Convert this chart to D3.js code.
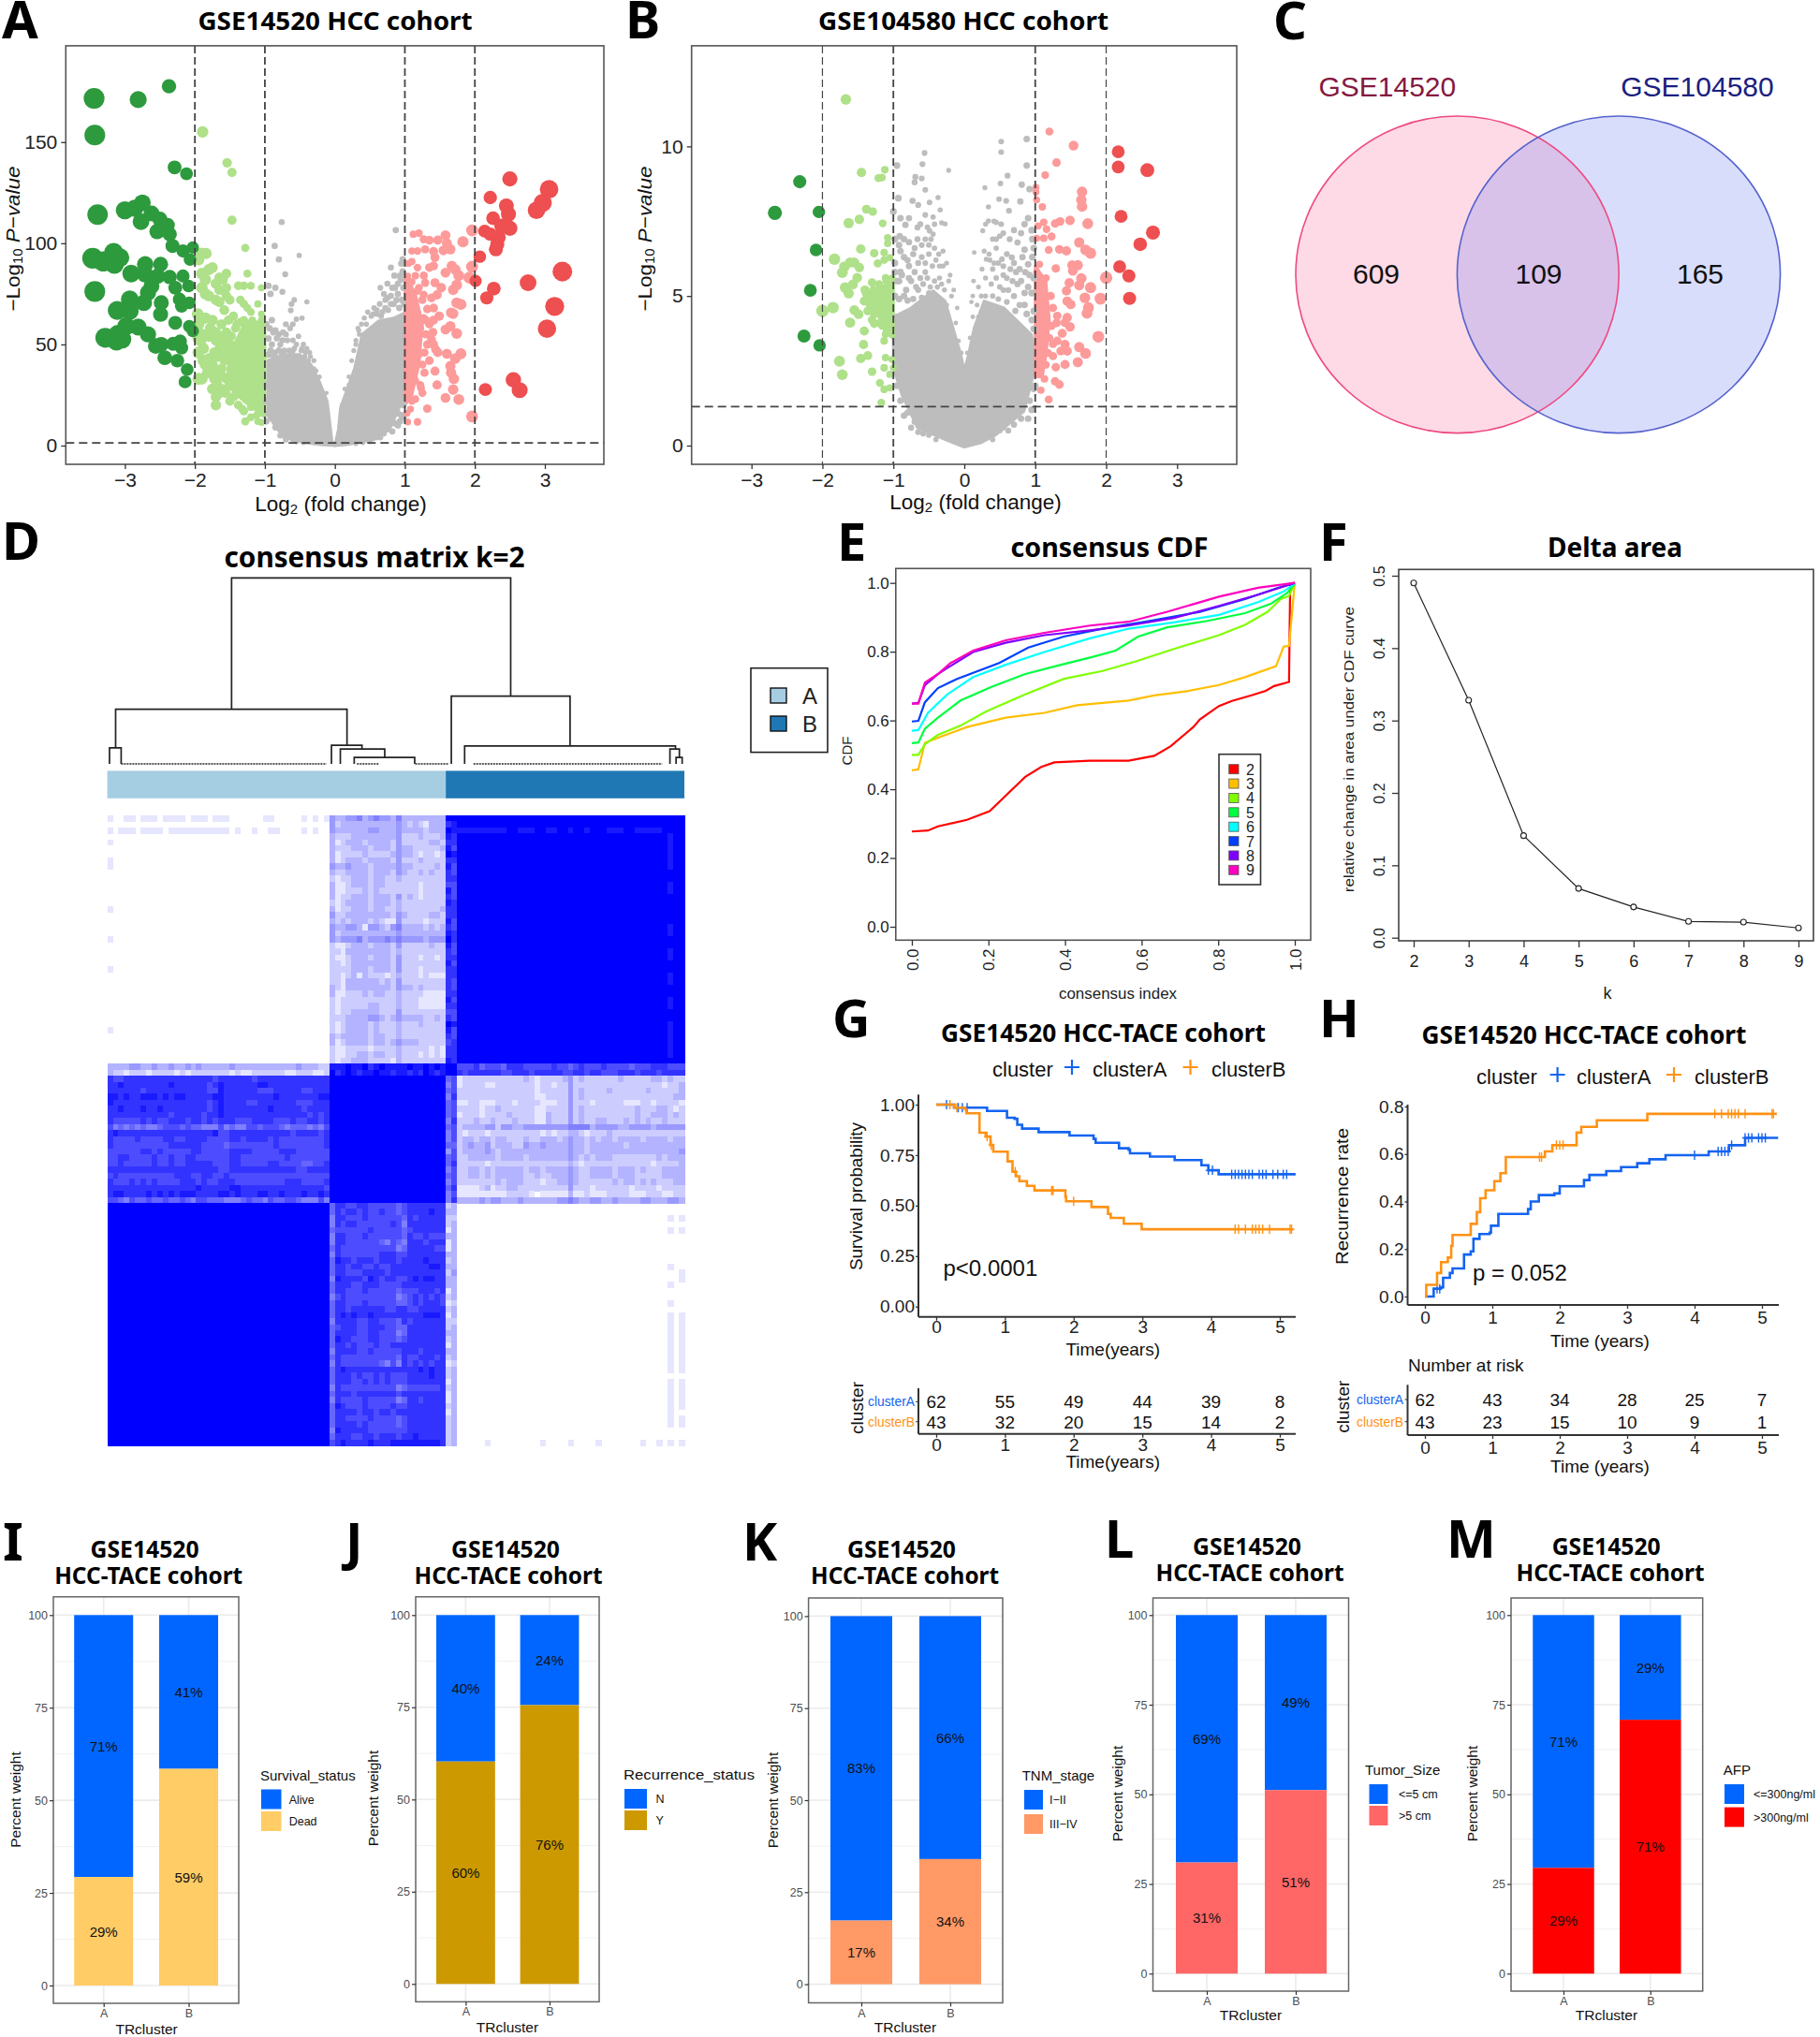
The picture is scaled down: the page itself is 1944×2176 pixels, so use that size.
<!DOCTYPE html>
<html><head><meta charset="utf-8">
<script src="https://cdn.jsdelivr.net/npm/d3@7"></script>
<style>html,body{margin:0;padding:0;background:#fff}svg{display:block}text{font-family:"Liberation Sans",Arial,sans-serif}</style>
</head><body><svg id="c" width="1944" height="2176"></svg>
<script>
// ---------- Volcano A (log2FC, -log10P) ----------
const aDark=[[-3.44,171.6],[-2.81,171],[-2.37,177.6],[-3.43,153.5],[-2.29,137.5],[-2.12,134.3],[-3.39,114.2],[-3,116.3],[-2.86,117.3],[-2.75,120],[-2.62,114.7],[-2.77,110.7],[-2.5,111.9],[-2.39,109],[-2.54,105.8],[-2.36,104.5],[-2.32,98.7],[-2.17,96.2],[-2.03,97.9],[-2.07,92],[-3.46,92.6],[-3.16,95.4],[-3.07,92.9],[-3.31,91],[-3.15,89.6],[-2.91,85],[-2.71,89.6],[-2.71,84.7],[-2.49,89.6],[-2.53,83.8],[-2.36,83.3],[-2.17,83.8],[-2.09,78.9],[-2.28,78],[-2.62,78.9],[-2.67,75.6],[-2.73,70.6],[-3.43,76.2],[-2.93,72.3],[-3.11,66.8],[-2.93,66.5],[-2.48,70.6],[-2.49,64.9],[-2.22,72.3],[-2.08,70.6],[-2.19,69],[-2.28,60.7],[-2.08,59],[-2.03,56.6],[-2.21,51.6],[-2.19,48.3],[-2.31,50.3],[-2.25,42],[-2.43,43.4],[-2.56,49.2],[-2.48,50],[-2.67,55],[-2.81,58.6],[-2.98,59],[-3.28,53.3],[-3.12,51.6],[-3.04,52.5],[-3.1,55],[-2.11,37.6],[-2.14,31.5]];
const aRed=[[3.06,126.7],[2.5,131.8],[2.22,122.6],[2.97,120],[2.88,116.3],[2.45,118.5],[2.48,114.4],[2.26,112.4],[2.38,108.6],[2.5,107.4],[2.14,106],[2.22,104.5],[2.34,103],[2.32,99.5],[2.3,97],[2.07,93.4],[3.25,86],[2.76,80.5],[2.01,81.4],[2.27,77.6],[2.17,73],[3.14,68.8],[3.03,57.8],[2.55,32.5],[2.15,27.7],[2.64,27.4]];
const aLight=[[-1.89,155],[-1.54,139.8],[-1.47,135],[-1.47,111.4],[-1.28,97.7],[-1.84,95],[-1.9,95],[-1.95,92],[-1.8,87],[-1.75,88],[-1.9,85],[-1.85,82],[-1.65,83],[-1.55,85],[-1.6,82],[-1.55,78],[-1.9,78],[-1.85,75],[-1.8,74],[-1.7,80],[-1.65,77],[-1.5,72],[-1.55,74],[-1.7,72],[-1.65,71],[-1.25,85],[-1.3,79],[-1.2,79],[-1.38,79],[-1.05,78],[-1.35,72],[-1.3,70],[-1.25,68],[-1.2,66],[-1.1,70],[-1.05,65],[-1.03,60],[-1.96,65],[-1.95,60],[-1.85,63],[-1.75,62],[-1.62,60],[-1.52,62],[-1.45,64],[-1.58,67],[-1.42,58],[-1.35,61],[-1.25,60],[-1.9,55],[-1.8,54],[-1.95,53],[-1.7,52],[-1.62,54],[-1.55,53],[-1.5,50],[-1.65,48],[-1.72,46],[-1.88,48],[-1.95,46],[-1.8,43],[-1.6,44],[-1.52,46],[-1.45,42],[-1.62,38],[-1.75,40],[-1.85,40],[-1.95,33],[-1.9,33],[-1.72,33],[-1.68,30],[-1.55,33],[-1.6,28],[-1.5,30],[-1.7,24],[-1.7,20],[-1.5,22],[-1.42,25],[-1.38,20],[-1.32,18],[-1.28,12],[-1.1,12],[-1.05,11.5],[-1.05,16],[-1.2,19],[-1.08,24],[-1.12,28],[-1.03,33],[-1.3,40],[-1.15,50],[-1.1,55],[-1.02,44],[-1.22,34],[-1.35,33],[-1.28,27],[-1.4,50],[-1.48,38],[-1.55,56],[-1.05,62],[-1.12,60],[-1.18,62],[-1.3,62],[-1.4,60],[-1.48,54],[-1.52,48],[-1.58,42],[-1.6,34],[-1.56,26],[-1.45,24],[-1.38,26],[-1.3,17],[-1.2,14],[-1.12,15],[-1.62,50],[-1.7,56],[-1.78,58],[-1.68,44],[-1.82,36],[-1.88,42],[-1.92,52],[-1.75,28],[-1.65,26],[-1.72,36]];
const aPink=[[1.2,105],[1.12,104.5],[1.27,102],[1.35,101.5],[1.47,101.6],[1.58,104],[1.6,100],[1.83,100.8],[1.96,106.4],[1.1,96.2],[1.18,96.2],[1.29,97],[1.41,96],[1.55,96.5],[1.65,97],[1.43,93],[1.1,91],[1.35,88],[1.41,88.8],[1.67,88.8],[1.72,87],[1.58,85.5],[1.77,84],[1.96,88.4],[1.92,83],[1.04,83.8],[1.27,84],[1.1,81],[1.29,80.5],[1.43,80.5],[1.52,78],[1.74,79.4],[1.69,77],[1.04,78],[1.18,76.4],[1.27,74.5],[1.1,73],[1.38,73],[1.46,74.5],[1.74,70.6],[1.8,69.8],[1.66,65.7],[1.69,65.2],[1.41,68],[1.32,67.5],[1.18,65.7],[1.07,64],[1.27,63],[1.41,62],[1.49,64],[1.58,57.4],[1.65,59],[1.74,55.4],[1.38,52.5],[1.41,50],[1.44,47.5],[1.47,46],[1.6,45.4],[1.8,45.4],[1.72,43],[1.65,39.3],[1.43,36.8],[1.66,36],[1.7,33],[1.46,30],[1.23,28.5],[1.69,27.7],[1.58,23.6],[1.77,22.8],[1.32,18.3],[1.18,11.7],[1.04,11.7],[1.96,14.4],[1.2,45],[1.08,40],[1.28,36],[1.15,32],[1.25,26],[1.1,22],[1.03,16],[1.35,42],[1.3,55],[1.22,58],[1.05,90],[1.15,84],[1.2,78],[1.25,72],[1.3,62],[1.32,50],[1.28,46],[1.25,40],[1.22,30],[1.15,23],[1.08,18],[1.02,25],[1.35,60],[1.4,56],[1.18,88],[1.05,70]];
const aGrey=[[-.76,110.5],[-.86,98.7],[-.8,92],[-.51,94],[-.71,84.7],[-.95,79],[-.85,78],[-.92,75],[-.75,76],[-.58,72],[-.62,70],[-.4,71],[-.63,66.8],[-.9,62],[-.7,60],[-.6,60],[-.55,62.5],[-.47,63],[-.85,57],[-.8,55],[-.75,52],[-.7,55],[-.6,52],[-.55,50],[-.45,50],[-.4,48],[-.36,46],[-.95,53],[-.9,50],[-.8,47],[-.65,47],[-.3,38],[-.28,32],[-.2,27],[-.15,22],[-.1,15],[-.98,30],[-.98,22],[-.9,14],[-.8,9],[-.75,6],[-.6,3],[.87,106.5],[.97,92],[.95,90],[.8,88],[.85,84],[.65,78],[.7,75],[.75,73],[.8,70],[.9,75],[.6,67],[.55,65],[.45,60],[.33,58],[.35,55],[.3,50],[.2,30],[.93,84],[.98,78],[.72,68],[.66,64],[.12,18],[.16,24],[.93,12],[.82,7],[.6,4],[.98,14],[-.98,60],[-.93,58],[-.88,56],[-.83,53],[-.78,50],[-.74,56],[-.68,52],[-.64,58],[-.58,48],[-.52,54],[-.48,47],[-.43,44],[-.38,42],[-.33,36],[-.92,47],[-.87,44],[-.82,42],[-.76,46],[-.7,43],[-.62,46],[-.56,44],[-.5,42],[-.98,12],[-.95,16],[-.9,20],[-.85,9],[-.82,14],[-.78,5],[-.7,3],[-.65,6],[-.55,2],[-.5,3],[-.45,1.5],[-.25,28],[-.22,34],[-.18,24],[-.14,20],[-.12,26],[-.3,42],[-.27,37],[-.35,44],[-.42,46],[-.47,48],[-.6,47],[-.72,47],[-.85,46],[-.95,45],[.1,20],[.14,28],[.2,34],[.24,42],[.27,47],[.3,52],[.34,57],[.38,60],[.42,63],[.47,66],[.52,64],[.56,68],[.6,65],[.64,70],[.68,66],[.72,72],[.76,67],[.8,74],[.84,70],[.88,72],[.92,68],[.96,72],[.99,70],[.86,78],[.9,80],[.94,82],[.75,80],[.82,78],[.97,86],[.98,20],[.95,15],[.9,16],[.85,11],[.75,8],[.7,6],[.65,4],[.5,2],[.4,1.5],[.3,1],[.9,10]];
const aGreyCoreL=[[0,0],[-.04,2],[-.11,22],[-.225,32],[-.34,40],[-.5,45],[-.73,45],[-.96,42],[-.96,15],[-.73,4],[-.39,1.3],[-.2,.5]];
const aGreyCoreR=[[0,0],[.05,8],[.08,18.6],[.28,38],[.39,55],[.62,61.5],[.84,63],[1,65.7],[1,25],[.79,8.7],[.56,3],[.17,.5]];
const aLightCore=[[-1,60],[-1.3,60],[-1.5,45],[-1.55,30],[-1.3,22],[-1,14]];
const aPinkCore=[[1,85],[1.15,75],[1.25,60],[1.2,40],[1.1,25],[1,20]];
// ---------- Volcano B ----------
const bDark=[[-2.32,8.82],[-2.67,7.78],[-2.05,7.81],[-2.09,6.54],[-2.17,5.19],[-2.26,3.66],[-2.04,3.35]];
const bRed=[[2.17,9.82],[2.17,9.31],[2.58,9.21],[2.21,7.66],[2.66,7.12],[2.48,6.73],[2.19,5.98],[2.32,5.67],[2.33,4.92]];
const bLight=[[-1.67,11.57],[-1.12,9.22],[-1.45,9.13],[-1.21,8.94],[-1.16,8.96],[-1.38,7.9],[-1.29,7.82],[-1.63,7.44],[-1.48,7.56],[-1.15,7.43],[-1.08,6.95],[-1.08,6.76],[-1.46,6.57],[-1.83,6.23],[-1.27,6.43],[-1.13,6.45],[-1.05,6.28],[-1.13,6.2],[-1.22,6.09],[-1.69,5.98],[-1.55,6.12],[-1.61,6.12],[-1.48,5.95],[-1.72,5.78],[-1.51,5.61],[-1.11,5.61],[-1.3,5.45],[-1.57,5.39],[-1.68,5.28],[-1.63,5.09],[-1.19,5.28],[-1.05,5.28],[-1.38,5.08],[-1.3,5.06],[-1.22,5.06],[-1.11,5.06],[-1.41,4.83],[-1.27,4.83],[-1.19,4.89],[-1.05,5],[-1.33,4.72],[-1.24,4.61],[-1.13,4.67],[-1.85,4.61],[-2,4.5],[-1.55,4.53],[-1.49,4.39],[-1.27,4.39],[-1.11,4.33],[-1.61,4.11],[-1.27,4.07],[-1.41,3.83],[-1.16,4],[-1.05,3.89],[-1.11,3.72],[-1.13,3.5],[-1.42,3.38],[-1.36,3.01],[-1.46,2.91],[-1.76,2.82],[-1.11,2.94],[-1.02,2.88],[-1.13,2.6],[-1.3,2.47],[-1.72,2.37],[-1,2.6],[-1.05,2.38],[-1.19,2.1],[-1.05,1.93],[-1.13,1.88],[-1.17,1.43],[-1.02,5.6],[-1.1,5.5],[-1.2,5.4],[-1.28,5.2],[-1.34,4.9],[-1.36,4.5],[-1.3,4.2],[-1.2,4.1],[-1.1,3.9],[-1.02,3.7],[-1.4,5.2]];
const bPink=[[1.2,10.5],[1.54,10.03],[1.3,9.46],[1.14,9.04],[1.01,8.63],[1.01,8.47],[1.66,8.48],[1.02,8.21],[1.65,8.21],[1.66,7.99],[1.1,7.98],[1.12,7.46],[1.04,7.34],[1.28,7.42],[1.35,7.49],[1.49,7.53],[1.74,7.42],[1.16,7.23],[1.23,6.99],[1.02,6.93],[1.12,6.93],[1.62,6.79],[1.19,6.54],[1.34,6.56],[1.44,6.51],[1.71,6.54],[1.78,6.43],[1.06,6.06],[1.29,5.92],[1.52,6.03],[1.6,6.03],[1.53,5.84],[2,5.61],[1.65,5.59],[1.48,5.44],[1.62,5.36],[1.78,5.28],[1.44,5.17],[1.7,4.94],[1.92,4.91],[1.45,4.83],[1.5,4.72],[1.75,4.61],[1.73,4.42],[1.31,4.33],[1.45,4.28],[1.42,4.11],[1.49,3.97],[1.89,3.64],[1.38,3.75],[1.31,3.5],[1.62,3.29],[1.42,3.38],[1.36,3.16],[1.45,3.16],[1.71,3.08],[1.25,2.99],[1.6,2.79],[1.42,2.71],[1.29,2.62],[1.13,2.23],[1.28,2.15],[1.34,2.04],[1.08,1.85],[1.19,1.54],[1.02,5.8],[1.08,5.6],[1.15,5.6],[1.22,5],[1.25,4.6],[1.23,4],[1.2,3.6],[1.18,3.1],[1.15,2.7],[1.02,2.4],[1.08,3.3],[1.25,3.4],[1.3,4.1]];
const bGrey=[[-.56,9.78],[-.59,9.41],[-.95,9.36],[-.69,8.98],[-.6,8.93],[-.7,8.8],[-.22,9.2],[-.55,8.55],[-.93,8.27],[-.73,8.18],[-.65,8.04],[-.49,8.13],[-.37,8.29],[-.34,7.88],[-1,7.82],[-.55,7.71],[-.44,7.64],[-.32,7.45],[-.83,7.38],[-.66,7.29],[-.91,7],[-.49,7.18],[-.44,7.07],[-.27,7.41],[.52,10.16],[.88,10.25],[.52,9.81],[.88,9.36],[.61,9.02],[.51,8.76],[.29,8.62],[.81,8.72],[.92,8.57],[.49,8.24],[.59,8.18],[.79,8.16],[.34,7.98],[.63,7.85],[.34,7.51],[.45,7.46],[.26,7.18],[.45,6.9],[.64,6.9],[.75,6.79],[.96,6.9],[.14,6.45],[.31,6.23],[.53,6.23],[.67,6.29],[.9,6.06],[-.9,6.5],[-.8,6.2],[-.7,6.6],[-.6,6.3],[-.5,6.7],[-.4,6.2],[-.3,6],[-.9,5.8],[-.75,5.5],[-.55,5.8],[-.35,5.6],[-.2,5.7],[-.85,5],[-.95,5.5],[-.65,5.2],[-.15,5.2],[-.1,4.6],[.1,4.8],[.2,5.3],[.25,5.9],[.4,5.9],[.35,6.4],[.6,5.6],[.75,5.4],[.9,5.3],[.98,5.6],[.55,5.2],[.7,5],[.85,4.7],[.98,4.5],[.13,5.5],[.45,6.6],[.85,6.55],[.8,7.1],[-.95,4.3],[-.98,3.6],[-.9,1.5],[-.85,1],[-.75,.6],[-.58,.4],[.95,1.2],[.9,.9],[.98,1.9],[.62,.5],[.55,.6],[-.9,7.6],[-.78,7.6],[-.62,7.4],[-.52,7.3],[-.42,7.4],[-.98,6.9],[-.92,6.7],[-.85,6.9],[-.78,6.8],[-.72,6.4],[-.66,6.9],[-.6,6.7],[-.55,6.9],[-.5,6.4],[-.47,6.9],[-.42,6.6],[-.36,6.4],[-.3,6.5],[-.25,6.1],[-.98,6.1],[-.85,6.3],[-.78,6],[-.65,6.1],[-.55,6.1],[-.45,6],[-.35,6],[-.98,5.8],[-.92,5.5],[-.88,5.7],[-.82,5.2],[-.78,5.6],[-.7,5.8],[-.68,5.3],[-.62,5.6],[-.58,5.4],[-.52,5.6],[-.48,5.3],[-.42,5.5],[-.38,5.3],[-.32,5.4],[-.28,5.2],[-.22,5.5],[-.18,5],[-.98,5],[-.92,4.9],[-.8,4.85],[-.72,4.9],[-.6,4.95],[-.5,5.1],[-.25,4.7],[.3,7.4],[.42,7.5],[.52,7.4],[.55,7.1],[.7,7.2],[.85,7.4],[.9,7.6],[.95,7.2],[.4,6.9],[.5,7],[.28,6.5],[.36,6.2],[.42,6.1],[.48,6.1],[.55,6],[.6,6.4],[.65,5.9],[.7,6.1],[.73,5.8],[.78,5.9],[.82,6.3],[.86,5.8],[.92,5.7],[.96,6.3],[.98,6.6],[.3,5.6],[.38,5.4],[.45,5.6],[.5,5.3],[.55,5.7],[.62,5.2],[.68,5.5],[.8,5.5],[.85,5.1],[.95,5.1],[.12,5],[.18,4.7],[.24,5],[.3,5],[.4,5],[.48,4.9],[.6,4.8],[.72,4.5],[.78,4.7],[.88,4.4],[.95,4.2],[.98,3.9],[.2,4.3],[-.12,4.1],[-.08,3.5],[-.04,3.1],[.04,3.1],[.08,3.6],[.12,4.3],[-.95,2],[-.92,2.3],[-.8,1.1],[-.7,.8],[-.65,.45],[-.5,.35],[-.4,.2],[.4,.2],[.5,.5],[.7,.7],[.8,.9],[.92,1.5],[1,2]];
const bGreyCore=[[0,-.05],[-.33,.26],[-.66,.6],[-.88,1.7],[-1,2.6],[-1,4.3],[-.75,4.6],[-.44,5.17],[-.27,4.83],[-.16,3.94],[-.05,3.05],[0,2.5],[.06,3.05],[.14,3.94],[.28,4.83],[.56,4.6],[.95,3.7],[1,2.6],[.84,1.15],[.45,.37],[.23,.09]];
const bLightCore=[[-1,5.5],[-1.25,5.2],[-1.3,4.6],[-1.05,3.8],[-1,3.8]];
const bPinkCore=[[1,6],[1.15,5.5],[1.2,4.2],[1.15,3],[1.1,2.3],[1,2.3]];
const volcanoTicksX=[-3,-2,-1,0,1,2,3], volcanoTicksYA=[0,50,100,150], volcanoTicksYB=[0,5,10];
// ---------- Venn ----------
const vennSets=["GSE14520","GSE104580"], vennCounts=[609,109,165];
// ---------- Consensus matrix (digit = consensus value x10, a = 1) ----------
const hmTopMid=["433445345443533333333","423333333333432321333","433333344333433332333","322233333333422232223","312333233332422222332","322233323332433222223","312222322223433212212","312333233332422232222","433433323333433222232","322333323332432232322","212233323322322222222","311233323322222212222","311222323222222212222","312233323332423212222","212333323332322222222","312233323322322222223","422333333332432222332","323233323211422221222","433443144324533332323","423333333333433333333","434445344454544443444","211233323332422222322","221333333332322222222","211233323332422212212","221233333332422222222","222233323332422212222","221231322212322212111","221333333232422222222","321333333332433232222","311222323322322221111","212222222222322211111","212222233222322211111","212233333222422222222","222333344323433332232","212333323222322232222","212333323222322222222","323333323322322222222","312333323323433322222","211222212222322222121","211223323322322212121","212233322221322222222"];
const hmMidRight=["12222222222232122223423222222322222332322","12222112222222122122422222222222222221223","22222222222222122222423222232222223222223","22222222222222112222423222222222222222233","11221112221222211122422212222211122122221","22221223222222112222423222222222322233212","12221222232222113222423222222222322333232","22232232223222113222423223322232323223222","23333442443344444444555534444334444344444","21222122222222212122332122232222222222222","23323323322232233323433232332333323333233","23433423332243343333433233333323333333333","23333432333333333333433233333333333333334","22333332333323333333432323332222222232333","22222122222222222222321222222222222122223","22332323333323323333432233332333232223333","22332323333322322333432233332333222223333","22222223233322212233432222223233232322233","11112312233222222222422212222221222212222","11111111122221011111311211122221112221122","33334344333433333344543344334333344333443"];
const hmMidLeft=["8778888888888888888788888878888888888888","8898888888898888887898888889988888888888","8888887888888888887798888887778888877888","9989889998989988888998888888889888888899","9888888888888888887898888778888888777888","8898889889888888887898888888898888878888","8888888888878888878898888888888888887878","8777778787788878878788877788887778778878","7565656556777676655575655776777656665657","8988888888888888888977888888888887888878","8777787777887788887777887888878777777778","8777777777788888877776777777778777777778","7777778878777778877777888877777888777777","7788777787787788777777887777777787777777","7787777787787788888777887777788777766778","8888888888888888888877888888888888778888","7877777777778887788778777777777777777777","8777878787777888787788877777777788877778","8888888888888888988888998888888888888887","8998888989898999888899898889988988898898","7765766766766765776665556766576677655575"];
const hmBottomMid=["688778877777678888888","687887877877678888988","588777877777768788888","587887777778758888888","677777787777767888888","588777877777768778777","588777777657658887888","687777777777568888877","587777777888778888888","698878887888788889888","688788778778888888998","688777888878888888888","598888798788778989988","688877888777788888888","688777877777677788878","578777777777567878787","688777877777667878887","688788888877887788888","689898898888888889998","588887788777687888888","678887788877668888888","688887788777568888888","698877788777678888888","688787778778888888888","588887787777788878888","687777777777687788878","587777777657587878788","689888888888888898988","688878778787778888988","688877878787778888888","587777777777567777778","688878888888788888888","587777877777568878888","698777877778778888888","688887887887888888888","688777787777678888888","688887877777678888888","598888877777778888888","688877887888788988888","789888898889999999998"];
const hmRow41Left="3333443343343343433333433333333333433322", hmRow42Left="3221222122221212222222121122222211222112";
const hmRow41Mid="999a99a89a9999a99a9a9", hmRow42Mid="a89a9899a99899898a989";
const hmRow41Right="77786777688877777877678777877776777888777", hmRow42Right="87888888778887888887788788777888788878888";
const hmCol61Top="a8a989a8988798988989a9889888889878a987889", hmCol62Top="a9988798778777888778877878877878779778888";
const hmCol61Mid="656566656556466565655", hmCol62Mid="777877787776778777878";
const hmCol61Bot="2322131132323312121223213212212112122222", hmCol62Bot="3323333333343333233233333323333333333333";
const hmTopRightRow2=[0,1,2,3,4,5,6,7,8,11,12,13,16,17,20,23,27,28,29,32,33,34,35,36]; // dashes at 0.9
const hmTopRightCol38=[3,4,5,6,7,8,11,12,18,19,22,23,26,27,30,31,34,35,36,37,38,39];
const hmTopLeftRow0=[0,3,4,6,7,8,10,11,12,13,15,16,17,19,20,21,28,29,35,37,39];
const hmTopLeftRow2=[0,2,3,4,6,7,8,9,11,12,13,14,15,16,17,18,19,20,21,23,26,29,30,35,37];
const hmTopLeftCol0=[4,7,8,15,20,25,35];
const hmBotRightCol38=[2,4,10,13,16,18,19,20,21,22,23,24,25,26,27,29,30,31,32,33,34,35,36,39];
const hmBotRightCol40=[2,4,11,12,18,19,20,21,22,23,24,25,26,27,29,30,31,32,33,35,36,39];
const hmBotRightRow39=[5,15,20,25,33,36];
const hmLegend=["A","B"];
// dendrogram merges: [leaf left, leaf right, height, left child height, right child height]
const dendroNodes=[[22.4,72.7,1,.294,.364],[1.5,43.2,.294,.086,.1],[.4,2.5,.086,0,0],[40.4,45.9,.1,0,.08],[42,50,.08,0,.035],[44.5,55.4,.035,0,0],[62,83.4,.364,0,.096],[64.4,102.4,.096,0,.08],[101.4,103.1,.08,0,.035],[102.5,103.6,.035,0,0]];
const dendroLeafRuns=[[2.5,39.5],[45,49],[55.5,61.5],[66,100]];
// ---------- Consensus CDF ----------
const cdfK=[2,3,4,5,6,7,8,9], cdfColors=["#FF0000","#FFBF00","#80FF00","#00FF40","#00FFFF","#0040FF","#8000FF","#FF00BF"];
const cdf2=[[0,.277],[.042,.28],[.068,.292],[.144,.311],[.203,.336],[.245,.381],[.296,.436],[.338,.465],[.372,.478],[.465,.483],[.566,.483],[.633,.497],[.676,.525],[.735,.581],[.752,.603],[.802,.642],[.836,.657],[.887,.673],[.924,.686],[.946,.7],[.985,.712],[.988,.998],[1,1]];
const cdf3=[[0,.455],[.017,.458],[.034,.535],[.076,.553],[.144,.581],[.245,.608],[.346,.622],[.431,.644],[.566,.658],[.633,.673],[.718,.685],[.802,.703],[.87,.726],[.951,.758],[.971,.815],[.985,.817],[1,1]];
const cdf4=[[0,.5],[.017,.5],[.034,.531],[.068,.558],[.127,.585],[.194,.626],[.296,.676],[.397,.721],[.498,.744],[.583,.771],[.684,.808],[.802,.848],[.87,.878],[.929,.916],[.963,.953],[.985,.962],[1,1]];
const cdf5=[[0,.534],[.017,.536],[.034,.576],[.068,.608],[.127,.658],[.211,.699],[.296,.735],[.397,.764],[.473,.785],[.532,.803],[.591,.844],[.667,.871],[.769,.889],[.87,.912],[.937,.939],[.98,.971],[1,.998]];
const cdf6=[[0,.57],[.017,.572],[.042,.622],[.093,.676],[.16,.726],[.245,.762],[.346,.799],[.465,.839],[.566,.867],[.684,.885],[.802,.907],[.904,.944],[.971,.975],[1,.998]];
const cdf7=[[0,.597],[.017,.599],[.034,.653],[.068,.694],[.118,.721],[.228,.767],[.304,.812],[.397,.844],[.498,.867],[.617,.889],[.752,.916],[.87,.953],[.954,.985],[1,1]];
const cdf8=[[0,.649],[.017,.651],[.034,.703],[.068,.735],[.093,.753],[.16,.799],[.245,.826],[.346,.848],[.465,.862],[.566,.876],[.684,.898],[.802,.933],[.904,.966],[1,1]];
const cdf9=[[0,.649],[.017,.649],[.034,.71],[.068,.735],[.101,.767],[.16,.803],[.245,.833],[.346,.855],[.465,.876],[.566,.887],[.667,.916],[.802,.96],[.904,.986],[1,1]];
const cdfSeries=[cdf2,cdf3,cdf4,cdf5,cdf6,cdf7,cdf8,cdf9];
// ---------- Delta area ----------
const deltaK=[2,3,4,5,6,7,8,9], deltaV=[.49,.328,.141,.068,.0425,.0225,.0215,.0135];
// ---------- Survival / Recurrence ----------
const gA=[[0,1],[.26,.985],[.74,.969],[1.03,.935],[1.14,.93],[1.18,.9],[1.25,.881],[1.49,.864],[1.94,.847],[2.29,.83],[2.32,.811],[2.66,.784],[2.8,.777],[2.82,.759],[3.11,.743],[3.47,.725],[3.86,.7],[3.96,.675],[4.11,.655],[5.23,.655]];
const gB=[[0,1],[.17,1],[.26,.985],[.42,.977],[.44,.957],[.63,.861],[.72,.842],[.79,.8],[.83,.767],[1.04,.719],[1.11,.668],[1.16,.645],[1.21,.621],[1.32,.598],[1.43,.575],[1.88,.544],[1.89,.521],[2.26,.493],[2.5,.459],[2.54,.439],[2.73,.41],[2.99,.383],[5.2,.383]];
const gACens=[.15,.32,.38,.45,3.96,4.02,4.3,4.35,4.4,4.45,4.5,4.55,4.6,4.7,4.75,4.8,4.9,4.97,5.05,5.1];
const gBCens=[.2,.3,.74,.8,1.15,1.68,1.7,2,4.35,4.4,4.5,4.6,4.65,4.7,4.75,4.85,5.15,5.17];
const hA=[[0,0],[.11,0],[.13,.033],[.23,.039],[.27,.079],[.37,.099],[.41,.118],[.58,.177],[.68,.19],[.72,.243],[.81,.263],[.96,.269],[.98,.298],[1.09,.348],[1.53,.368],[1.57,.4],[1.69,.427],[1.92,.434],[2,.464],[2.36,.49],[2.44,.512],[2.69,.528],[2.91,.545],[3.15,.561],[3.33,.578],[3.57,.595],[4.21,.611],[4.51,.637],[4.75,.668],[5.24,.668]];
const hB=[[0,0],[.02,.049],[.18,.099],[.24,.145],[.34,.164],[.39,.214],[.41,.259],[.68,.306],[.77,.355],[.82,.414],[.9,.447],[1.03,.486],[1.12,.519],[1.2,.587],[1.78,.611],[1.89,.637],[2.25,.69],[2.32,.714],[2.55,.742],[3.3,.769],[5.22,.769]];
const hACens=[.18,.22,4,4.35,4.4,4.45,4.5,4.55,4.75,4.8,4.85,4.95,5,5.05];
const hBCens=[1.7,1.73,1.95,2,2.05,4.3,4.4,4.5,4.55,4.6,4.65,4.75,5.15,5.17];
const riskTimes=[0,1,2,3,4,5], gRiskA=[62,55,49,44,39,8], gRiskB=[43,32,20,15,14,2], hRiskA=[62,43,34,28,25,7], hRiskB=[43,23,15,10,9,1];
const kmNames=["clusterA","clusterB"];
// ---------- Stacked bars ----------
const barCats=["A","B"], barTicks=[0,25,50,75,100];
const iLow=[29.3,58.5], iPct=[["71%","29%"],["41%","59%"]], iLegend=["Alive","Dead"];
const jLow=[60.3,75.6], jPct=[["40%","60%"],["24%","76%"]], jLegend=["N","Y"];
const kLow=[17.3,34], kPct=[["83%","17%"],["66%","34%"]], kLegend=["I−II","III−IV"];
const lLow=[31,51.2], lPct=[["69%","31%"],["49%","51%"]], lLegend=["<=5 cm",">5 cm"];
const mLow=[29.5,70.8], mPct=[["71%","29%"],["29%","71%"]], mLegend=["<=300ng/ml",">300ng/ml"];

// =================== drawing ===================
const svg=d3.select("#c");
const TITLE='"Noto Sans",sans-serif';
function txt(s,x,y,o={}){const t=svg.append("text").attr("x",x).attr("y",y).text(s)
 .attr("font-size",o.size||16).attr("fill",o.fill||"#111").attr("text-anchor",o.anchor||"start");
 if(o.bold){t.attr("font-weight",700).style("font-family",TITLE);}
 if(o.italic)t.attr("font-style","italic");
 if(o.width)t.attr("textLength",o.width).attr("lengthAdjust","spacingAndGlyphs");
 if(o.rot)t.attr("transform",`rotate(${o.rot},${x},${y})`);
 return t;}
function letter(s,x,y){txt(s,x,y,{size:56,bold:true,fill:"#000"});}
function frame(x0,y0,x1,y1,c="#555",w=1.6){svg.append("rect").attr("x",x0).attr("y",y0).attr("width",x1-x0).attr("height",y1-y0).attr("fill","none").attr("stroke",c).attr("stroke-width",w);}
function styleAxis(g,size,fill,c="#333",w=1.3){g.select(".domain").remove();g.selectAll(".tick line").attr("stroke",c).attr("stroke-width",w);g.selectAll("text").attr("font-size",size).attr("fill",fill).style("font-family",'"Liberation Sans",Arial,sans-serif');}

// panel letters
[["A",2,41],["B",668,41],["C",1360,42],["D",2,598],["E",894,599],["F",1409,599],["G",889,1108],["H",1409,1108],["I",3,1667],["J",369,1667],["K",793,1667],["L",1180,1664],["M",1545,1664]].forEach(d=>letter(d[0],d[1],d[2]));

// ---- volcanoes ----
function volcano(c){
 const x=d3.scaleLinear().domain([-3,3]).range(c.xr), y=d3.scaleLinear().domain(c.yd).range(c.yr);
 const r=d3.scaleLinear().domain(c.rd).range(c.rr);
 const clipId="clip"+c.id;
 svg.append("clipPath").attr("id",clipId).append("rect").attr("x",c.f[0]).attr("y",c.f[1]).attr("width",c.f[2]-c.f[0]).attr("height",c.f[3]-c.f[1]);
 const g=svg.append("g").attr("clip-path",`url(#${clipId})`);
 const poly=d3.line().x(d=>x(d[0])).y(d=>y(d[1])).curve(d3.curveLinearClosed);
 c.cores.forEach(p=>g.append("path").attr("d",poly(p[0])).attr("fill",p[1]).attr("stroke",p[1]).attr("stroke-width",3).attr("stroke-linejoin","round"));
 c.sets.forEach(s=>g.append("g").selectAll("circle").data(s[0]).join("circle").attr("cx",d=>x(d[0])).attr("cy",d=>y(d[1])).attr("r",d=>r(Math.abs(d[0]))).attr("fill",s[1]));
 c.vlines.forEach(v=>svg.append("line").attr("x1",x(v[0])).attr("x2",x(v[0])).attr("y1",c.f[1]).attr("y2",c.f[3]).attr("stroke","#444").attr("stroke-width",v[1]).attr("stroke-dasharray","8,4"));
 svg.append("line").attr("x1",c.f[0]).attr("x2",c.f[2]).attr("y1",y(1.3)).attr("y2",y(1.3)).attr("stroke","#444").attr("stroke-width",1.8).attr("stroke-dasharray","9,5");
 frame(c.f[0],c.f[1],c.f[2],c.f[3]);
 const ax=svg.append("g").attr("transform",`translate(0,${c.f[3]})`).call(d3.axisBottom(x).tickValues(volcanoTicksX).tickSize(5).tickFormat(d3.format("d")));
 styleAxis(ax,21,"#222");ax.selectAll("text").attr("y",24).attr("dy",0);
 const ay=svg.append("g").attr("transform",`translate(${c.f[0]},0)`).call(d3.axisLeft(y).tickValues(c.yt).tickSize(5).tickFormat(d3.format("d")));
 styleAxis(ay,21,"#222");ay.selectAll("text").attr("x",-9);
 const yl=svg.append("text").attr("transform",`translate(${c.yl[0]},${c.yl[1]}) rotate(-90)`).attr("text-anchor","middle").attr("font-size",21).attr("fill","#111").attr("textLength",155).attr("lengthAdjust","spacingAndGlyphs");
 yl.append("tspan").text("−Log");yl.append("tspan").text("10").attr("font-size",14).attr("dy",3);yl.append("tspan").text(" P−value").attr("font-style","italic").attr("dy",-3);
 const xl=svg.append("text").attr("x",c.xl[0]).attr("y",c.xl[1]).attr("text-anchor","middle").attr("font-size",22.5).attr("fill","#111");
 xl.append("tspan").text("Log");xl.append("tspan").text("2").attr("font-size",15).attr("dy",3);xl.append("tspan").text(" (fold change)").attr("dy",-3);
 txt(c.title,c.t[0],c.t[1],{size:27,bold:true,anchor:"middle",width:c.t[2],fill:"#000"});
}
const GD="#2e9a3e",GL="#afe08a",GR="#bdbdbd",PK="#fd9a9a",RD="#ee4f50";
volcano({id:"A",title:"GSE14520 HCC cohort",t:[358,32,293],f:[70.3,48.9,645,496],xr:[133.4,582],yd:[0,150],yr:[476,151.8],yt:volcanoTicksYA,
 rd:[0,1,2,3.4],rr:[2.2,3.6,6.5,11],vlines:[[-2,1.8],[-1,1.8],[1,1.8],[2,1.8]],yl:[21,255],xl:[364,546],
 cores:[[aGreyCoreL,GR],[aGreyCoreR,GR],[aLightCore,GL],[aPinkCore,PK]],sets:[[aGrey,GR],[aLight,GL],[aPink,PK],[aDark,GD],[aRed,RD]]});
volcano({id:"B",title:"GSE104580 HCC cohort",t:[1029,32,310],f:[738.7,48.9,1321,496],xr:[802.7,1257.3],yd:[0,10],yr:[476,156.4],yt:volcanoTicksYB,
 rd:[0,1,2,3],rr:[2.3,3.7,6.6,8],vlines:[[-2,1.2],[-1,1.8],[1,1.8],[2,1.2]],yl:[696,255],xl:[1042,544],
 cores:[[bGreyCore,GR],[bLightCore,GL],[bPinkCore,PK]],sets:[[bGrey,GR],[bLight,GL],[bPink,PK],[bDark,GD],[bRed,RD]]});

// ---- Venn ----
(function(){
 const x=d3.scalePoint().domain(vennSets).range([1556.6,1729]);
 const cy=293.3,rx=172.6,ry=169.3;
 svg.append("clipPath").attr("id","vc").append("ellipse").attr("cx",x(vennSets[0])).attr("cy",cy).attr("rx",rx).attr("ry",ry);
 svg.append("ellipse").attr("cx",x(vennSets[0])).attr("cy",cy).attr("rx",rx).attr("ry",ry).attr("fill","#fddae6");
 svg.append("ellipse").attr("cx",x(vennSets[1])).attr("cy",cy).attr("rx",rx).attr("ry",ry).attr("fill","#d9ddfc");
 svg.append("ellipse").attr("cx",x(vennSets[1])).attr("cy",cy).attr("rx",rx).attr("ry",ry).attr("fill","#d8c2ea").attr("clip-path","url(#vc)");
 svg.append("ellipse").attr("cx",x(vennSets[0])).attr("cy",cy).attr("rx",rx).attr("ry",ry).attr("fill","none").attr("stroke","#ee4a80").attr("stroke-width",1.6);
 svg.append("ellipse").attr("cx",x(vennSets[1])).attr("cy",cy).attr("rx",rx).attr("ry",ry).attr("fill","none").attr("stroke","#5563cc").attr("stroke-width",1.6);
 txt(vennSets[0],1481.8,102.7,{size:30,anchor:"middle",fill:"#85193f"});
 txt(vennSets[1],1813,102.7,{size:30,anchor:"middle",fill:"#1a2080"});
 [1470,1643.5,1816].forEach((px,i)=>txt(vennCounts[i],px,303.3,{size:30,anchor:"middle",fill:"#111"}));
})();

// ---- Consensus matrix ----
(function(){
 const N=104,x=d3.scaleBand().domain(d3.range(N)).range([114.6,731]),y=d3.scaleBand().domain(d3.range(N)).range([870.6,1544]);
 const M=d3.range(N).map(()=>new Array(N).fill(0));
 const dv=c=>c==null?0:(c==="a"?10:+c);
 const put=(rows,r0,c0)=>rows.forEach((s,i)=>{for(let j=0;j<s.length;j++)M[r0+i][c0+j]=dv(s[j]);});
 const putCol=(s,c,r0)=>{for(let i=0;i<s.length;i++)M[r0+i][c]=dv(s[i]);};
 for(let r=0;r<41;r++)for(let c=63;c<N;c++)M[r][c]=10;
 for(let r=64;r<N;r++)for(let c=0;c<40;c++)M[r][c]=10;
 for(let r=41;r<43;r++)for(let c=61;c<63;c++)M[r][c]=10;
 for(let r=43;r<64;r++)for(let c=40;c<63;c++)M[r][c]=10;
 put(hmTopMid,0,40);put(hmMidRight,43,63);put(hmMidLeft,43,0);put(hmBottomMid,64,40);
 put([hmRow41Left,hmRow42Left],41,0);put([hmRow41Mid,hmRow42Mid],41,40);put([hmRow41Right,hmRow42Right],41,63);
 putCol(hmCol61Top,61,0);putCol(hmCol62Top,62,0);putCol(hmCol61Mid,61,43);putCol(hmCol62Mid,62,43);putCol(hmCol61Bot,61,64);putCol(hmCol62Bot,62,64);
 hmTopRightRow2.forEach(c=>M[2][63+c]=9);hmTopRightCol38.forEach(r=>{M[r][101]=9;});
 hmTopLeftRow0.forEach(c=>M[0][c]=1);hmTopLeftRow2.forEach(c=>M[2][c]=1);hmTopLeftCol0.forEach(r=>M[r][0]=1);
 hmBotRightCol38.forEach(r=>M[64+r][101]=1);hmBotRightCol40.forEach(r=>M[64+r][103]=1);hmBotRightRow39.forEach(c=>M[103][63+c]=1);
 const col=d3.scaleLinear().domain([0,10]).range(["#ffffff","#0000ff"]);
 const cells=[];M.forEach((row,r)=>row.forEach((v,c)=>{if(v>0)cells.push({r,c,v});}));
 svg.append("g").attr("shape-rendering","crispEdges").selectAll("rect").data(cells).join("rect")
  .attr("x",d=>x(d.c)).attr("y",d=>y(d.r)).attr("width",x.bandwidth()+.5).attr("height",y.bandwidth()+.5).attr("fill",d=>col(d.v));
 // annotation bar
 const ann=[[0,61,"#a6cee3"],[61,N,"#1f78b4"]];
 const xl=d3.scaleLinear().domain([0,N]).range([114.6,731]);
 svg.append("g").selectAll("rect").data(ann).join("rect").attr("x",d=>xl(d[0])).attr("width",d=>xl(d[1])-xl(d[0])).attr("y",823.4).attr("height",29.4).attr("fill",d=>d[2]);
 // dendrogram
 const h=d3.scaleLinear().domain([0,1]).range([816,617.4]);
 const dg=svg.append("g").attr("fill","none").attr("stroke","#222").attr("stroke-width",1.7);
 dg.selectAll("path").data(dendroNodes).join("path").attr("d",d=>`M${xl(d[0])},${h(d[3])}V${h(d[2])}H${xl(d[1])}V${h(d[4])}`);
 dg.append("g").selectAll("line").data(dendroLeafRuns).join("line").attr("x1",d=>xl(d[0])).attr("x2",d=>xl(d[1])).attr("y1",h(0)).attr("y2",h(0)).attr("stroke-dasharray","2,1");
 txt("consensus matrix k=2",400,606,{size:30,bold:true,anchor:"middle",width:321,fill:"#000"});
 frame(802,713.7,884,803.6,"#222",1.6);
 const ly=d3.scalePoint().domain(hmLegend).range([743,773]);
 hmLegend.forEach((k,i)=>{svg.append("rect").attr("x",823).attr("y",ly(k)-8).attr("width",17).attr("height",16).attr("fill",["#a6cee3","#1f78b4"][i]).attr("stroke","#111").attr("stroke-width",1.4);
  txt(k,857,ly(k)+9,{size:24,fill:"#222"});});
})();

// ---- Consensus CDF ----
(function(){
 const x=d3.scaleLinear().domain([0,1]).range([974,1383]),y=d3.scaleLinear().domain([0,1]).range([990,622.7]);
 const line=d3.line().x(d=>x(d[0])).y(d=>y(d[1]));
 svg.append("g").attr("fill","none").attr("stroke-width",2.2).selectAll("path").data(cdfSeries).join("path").attr("d",line).attr("stroke",(d,i)=>cdfColors[i]);
 frame(956.8,607.3,1400,1004.3);
 const ax=svg.append("g").attr("transform","translate(0,1004.3)").call(d3.axisBottom(x).tickValues([0,.2,.4,.6,.8,1]).tickSize(6).tickFormat(d3.format(".1f")));
 styleAxis(ax,17,"#222");ax.selectAll("text").attr("transform","rotate(-90)").attr("text-anchor","middle").attr("x",-21).attr("y",0).attr("dy",".36em");
 const ay=svg.append("g").attr("transform","translate(956.8,0)").call(d3.axisLeft(y).tickValues([0,.2,.4,.6,.8,1]).tickSize(6).tickFormat(d3.format(".1f")));
 styleAxis(ay,17,"#222");ay.selectAll("text").attr("x",-7);
 txt("consensus CDF",1185,595,{size:28,bold:true,anchor:"middle",width:211,fill:"#000"});
 txt("consensus index",1194,1066.7,{size:17,anchor:"middle",fill:"#222",width:126});
 txt("CDF",910,802,{size:15,anchor:"middle",rot:-90,fill:"#222"});
 svg.append("rect").attr("x",1302).attr("y",805.7).attr("width",44.5).attr("height",139.3).attr("fill","#fff").attr("stroke","#333").attr("stroke-width",1.6);
 const ly=d3.scaleBand().domain(cdfK).range([814,937]);
 cdfK.forEach((k,i)=>{svg.append("rect").attr("x",1312.7).attr("y",ly(k)+ly.bandwidth()/2-5).attr("width",10.3).attr("height",10).attr("fill",cdfColors[i]).attr("stroke","#555").attr("stroke-width",.8);
  txt(k,1335.5,ly(k)+ly.bandwidth()/2+6,{size:16,anchor:"middle",fill:"#222"});});
})();

// ---- Delta area ----
(function(){
 const x=d3.scaleLinear().domain([2,9]).range([1510,1921]),y=d3.scaleLinear().domain([0,.5]).range([1001.7,615]);
 const line=d3.line().x((d,i)=>x(deltaK[i])).y(d=>y(d));
 svg.append("path").attr("d",line(deltaV)).attr("fill","none").attr("stroke","#222").attr("stroke-width",1.2);
 svg.append("g").selectAll("circle").data(deltaV).join("circle").attr("cx",(d,i)=>x(deltaK[i])).attr("cy",d=>y(d)).attr("r",3).attr("fill","#fff").attr("stroke","#222").attr("stroke-width",1.1);
 frame(1494,608.3,1937,1005,"#444",1.6);
 const ax=svg.append("g").attr("transform","translate(0,1005)").call(d3.axisBottom(x).tickValues(deltaK).tickSize(7).tickFormat(d3.format("d")));
 styleAxis(ax,18,"#222");ax.selectAll("text").attr("y",28).attr("dy",0);
 const ay=svg.append("g").attr("transform","translate(1494,0)").call(d3.axisLeft(y).tickValues([0,.1,.2,.3,.4,.5]).tickSize(7).tickFormat(d3.format(".1f")));
 styleAxis(ay,16,"#222");ay.selectAll("text").attr("text-anchor","middle").attr("transform","rotate(-90)").attr("x",0).attr("y",-15).attr("dy",0);
 txt("Delta area",1725,595,{size:28,bold:true,anchor:"middle",width:144,fill:"#000"});
 txt("k",1717,1066.7,{size:18,anchor:"middle",fill:"#222"});
 txt("relative change in area under CDF curve",1446,800.7,{size:15,anchor:"middle",rot:-90,width:305,fill:"#222"});
})();

// ---- KM panels ----
const KMA="#1464f0",KMB="#ff9214";
function km(c){
 const x=d3.scaleLinear().domain([0,5]).range(c.xr),y=d3.scaleLinear().domain(c.yd).range(c.yr);
 const line=d3.line().x(d=>x(d[0])).y(d=>y(d[1])).curve(d3.curveStepAfter);
 const stepAt=(s,t)=>{let v=s[0][1];s.forEach(p=>{if(p[0]<=t)v=p[1];});return v;};
 [[c.a,c.ac,KMA],[c.b,c.bc,KMB]].forEach(s=>{
  svg.append("path").attr("d",line(s[0])).attr("fill","none").attr("stroke",s[2]).attr("stroke-width",2.6);
  svg.append("g").selectAll("path").data(s[1]).join("path").attr("d",t=>`M${x(t)},${y(stepAt(s[0],t))-5}v10M${x(t)-3},${y(stepAt(s[0],t))}h6`).attr("stroke",s[2]).attr("stroke-width",1.4);
 });
 const ax=svg.append("g").attr("transform",`translate(0,${c.axb})`).call(d3.axisBottom(x).tickValues(riskTimes).tickSize(4).tickFormat(d3.format("d")));
 styleAxis(ax,19,"#222");ax.selectAll("text").attr("y",c.tb-c.axb).attr("dy",0);
 svg.append("line").attr("x1",c.axl).attr("x2",c.axr).attr("y1",c.axb).attr("y2",c.axb).attr("stroke","#333").attr("stroke-width",2);
 const ay=svg.append("g").attr("transform",`translate(${c.axl},0)`).call(d3.axisLeft(y).tickValues(c.yt).tickSize(3).tickFormat(d3.format(c.yf)));
 styleAxis(ay,19,"#222");ay.selectAll("text").attr("x",-4);
 svg.append("line").attr("x1",c.axl).attr("x2",c.axl).attr("y1",c.axt).attr("y2",c.axb).attr("stroke","#333").attr("stroke-width",2);
 txt(c.title,c.tt[0],c.tt[1],{size:27,bold:true,anchor:"middle",width:347,fill:"#000"});
 txt("cluster",c.lg[0],c.lg[4],{size:22,fill:"#111"});
 [[c.lg[2],c.lg[1],KMA,kmNames[0]],[c.lg[3],c.lg[5],KMB,kmNames[1]]].forEach(l=>{
  svg.append("path").attr("d",`M${l[0]-8},${c.lg[4]-10}h16M${l[0]},${c.lg[4]-18}v16`).attr("stroke",l[2]).attr("stroke-width",2.2);
  txt(l[3],l[1],c.lg[4],{size:22,fill:"#111"});});
 txt(c.p[0],c.p[1],c.p[2],{size:24,fill:"#111"});
 txt(c.ylab,c.yl[0],c.yl[1],{size:19,anchor:"middle",rot:-90,fill:"#111",width:c.yl[2]});
 txt(c.xlab,c.xlp[0],c.xlp[1],{size:19,anchor:"middle",fill:"#111"});
 // risk table
 const ry=d3.scaleOrdinal().domain(kmNames).range(c.rows);
 [[c.ra,KMA,kmNames[0]],[c.rb,KMB,kmNames[1]]].forEach(r=>{
  riskTimes.forEach((t,i)=>txt(r[0][i],x(t),ry(r[2])+7,{size:19,anchor:"middle",fill:"#111"}));
  txt(r[2],c.rl,ry(r[2])+5,{size:14.5,anchor:"end",fill:r[1],width:50});
  svg.append("line").attr("x1",c.axl-3).attr("x2",c.axl).attr("y1",ry(r[2])).attr("y2",ry(r[2])).attr("stroke","#333");
 });
 const at=svg.append("g").attr("transform",`translate(0,${c.tabb})`).call(d3.axisBottom(x).tickValues(riskTimes).tickSize(4).tickFormat(d3.format("d")));
 styleAxis(at,19,"#222");at.selectAll("text").attr("y",c.tabt-c.tabb).attr("dy",0);
 svg.append("line").attr("x1",c.axl).attr("x2",c.axr).attr("y1",c.tabb).attr("y2",c.tabb).attr("stroke","#333").attr("stroke-width",2);
 svg.append("line").attr("x1",c.axl).attr("x2",c.axl).attr("y1",c.tabtop).attr("y2",c.tabb).attr("stroke","#333").attr("stroke-width",2);
 txt("cluster",c.cl[0],c.cl[1],{size:19,anchor:"middle",rot:-90,fill:"#111"});
 txt(c.xlab,c.xlp2[0],c.xlp2[1],{size:19,anchor:"middle",fill:"#111"});
}
km({title:"GSE14520 HCC-TACE cohort",tt:[1178.5,1112.7],a:gA,b:gB,ac:gACens,bc:gBCens,xr:[1000,1367],yd:[0,1],yr:[1395.7,1180],yt:[0,.25,.5,.75,1],yf:".2f",axl:981,axr:1384,axt:1169.3,axb:1406.7,tb:1424,
 lg:[1060,1167,1145,1271.5,1150,1294],p:["p<0.0001",1007.5,1363],ylab:"Survival probability",yl:[921,1278,158],xlab:"Time(years)",xlp:[1188.7,1448],rows:[1497.3,1518.7],ra:gRiskA,rb:gRiskB,rl:977,tabb:1531.7,tabt:1550,tabtop:1483,cl:[922,1504],xlp2:[1188.7,1568]});
km({title:"GSE14520 HCC-TACE cohort",tt:[1692,1115],a:hA,b:hB,ac:hACens,bc:hBCens,xr:[1522,1882],yd:[0,.8],yr:[1385,1182],yt:[0,.2,.4,.6,.8],yf:".1f",axl:1503.5,axr:1900,axt:1180,axb:1394,tb:1414,
 lg:[1577,1684,1663.6,1788,1158,1810],p:["p = 0.052",1573,1368],ylab:"Recurrence rate",yl:[1440,1278,146],xlab:"Time (years)",xlp:[1709,1439],rows:[1495,1518.7],ra:hRiskA,rb:hRiskB,rl:1499,tabb:1533,tabt:1553,tabtop:1479.3,cl:[1441,1502.7],xlp2:[1709,1573]});
txt("Number at risk",1504,1465,{size:19,fill:"#111"});

// ---- stacked bars ----
function bars(c){
 const x=d3.scalePoint().domain(barCats).range(c.xc),y=d3.scaleLinear().domain([0,100]).range(c.yr);
 [12.5,37.5,62.5,87.5].forEach(v=>svg.append("line").attr("x1",c.f[0]).attr("x2",c.f[2]).attr("y1",y(v)).attr("y2",y(v)).attr("stroke","#f1f1f1").attr("stroke-width",1));
 barTicks.forEach(v=>svg.append("line").attr("x1",c.f[0]).attr("x2",c.f[2]).attr("y1",y(v)).attr("y2",y(v)).attr("stroke","#ebebeb").attr("stroke-width",1.6));
 barCats.forEach(k=>svg.append("line").attr("x1",x(k)).attr("x2",x(k)).attr("y1",c.f[1]).attr("y2",c.f[3]).attr("stroke","#ebebeb").attr("stroke-width",1.6));
 const g=svg.append("g");
 barCats.forEach((k,i)=>{
  const low=c.low[i];
  g.append("rect").attr("x",x(k)-c.bw/2).attr("width",c.bw).attr("y",y(100)).attr("height",y(low)-y(100)).attr("fill",c.colors[0]);
  g.append("rect").attr("x",x(k)-c.bw/2).attr("width",c.bw).attr("y",y(low)).attr("height",y(0)-y(low)).attr("fill",c.colors[1]);
  txt(c.pct[i][0],x(k),y((100+low)/2)+5.5,{size:15,anchor:"middle",fill:"#111"});
  txt(c.pct[i][1],x(k),y(low/2)+5.5,{size:15,anchor:"middle",fill:"#111"});
 });
 frame(c.f[0],c.f[1],c.f[2],c.f[3],"#666",1.5);
 const ax=svg.append("g").attr("transform",`translate(0,${c.f[3]})`).call(d3.axisBottom(x).tickSize(4));
 styleAxis(ax,12.5,"#4d4d4d","#333",1.2);ax.selectAll("text").attr("y",c.ab-c.f[3]).attr("dy",0);
 const ay=svg.append("g").attr("transform",`translate(${c.f[0]},0)`).call(d3.axisLeft(y).tickValues(barTicks).tickSize(4));
 styleAxis(ay,12.5,"#4d4d4d","#333",1.2);ay.selectAll("text").attr("x",-6);
 txt("GSE14520",c.t1[0],c.t1[1],{size:25,bold:true,anchor:"middle",width:116,fill:"#000"});
 txt("HCC-TACE cohort",c.t2[0],c.t2[1],{size:25,bold:true,anchor:"middle",width:201,fill:"#000"});
 txt("Percent weight",c.yl[0],c.yl[1],{size:15.5,anchor:"middle",rot:-90,fill:"#111"});
 txt("TRcluster",c.xl[0],c.xl[1],{size:15.5,anchor:"middle",fill:"#111"});
 txt(c.lt,c.lp[0],c.lp[1],{size:15,fill:"#111",width:c.lw});
 c.leg.forEach((s,i)=>{const yy=c.lk[i];
  svg.append("rect").attr("x",c.lx[0]).attr("y",yy).attr("width",c.lx[1]-c.lx[0]).attr("height",21).attr("fill",c.colors[i]);
  txt(s,c.lx[2],yy+15,{size:12.5,fill:"#111"});});
}
const BL="#0066ff";
bars({f:[57,1705.8,255,2140],xc:[110.7,201.5],yr:[2121,1725.3],bw:63,ab:2155,low:iLow,pct:iPct,colors:[BL,"#ffcc66"],t1:[154.6,1664],t2:[158.7,1692],yl:[22,1922.5],xl:[156.6,2173],lt:"Survival_status",lp:[278,1902],leg:iLegend,lk:[1911.5,1935],lx:[279,300.5,308.7]});
bars({f:[444,1705.8,640,2138.4],xc:[497.4,587],yr:[2119.3,1725.3],bw:62.8,ab:2153,low:jLow,pct:jPct,colors:[BL,"#cc9900"],t1:[540,1664],t2:[543,1692],yl:[404,1921],xl:[542,2171],lt:"Recurrence_status",lw:140,lp:[666,1901],leg:jLegend,lk:[1911,1934],lx:[667,691,700.5]});
bars({f:[863.6,1707,1071,2139.5],xc:[920,1015],yr:[2119.6,1726.4],bw:66,ab:2154.8,low:kLow,pct:kPct,colors:[BL,"#ff9966"],t1:[963,1664],t2:[966.6,1692],yl:[831,1923],xl:[967,2171],lt:"TNM_stage",lp:[1091.7,1902],leg:kLegend,lk:[1912,1938],lx:[1094,1114,1121]});
bars({f:[1231.5,1707,1440.5,2127],xc:[1289,1384],yr:[2108.3,1725.3],bw:66,ab:2142,low:lLow,pct:lPct,colors:[BL,"#ff6666"],t1:[1332,1661],t2:[1335,1689],yl:[1199,1916],xl:[1336,2158],lt:"Tumor_Size",lp:[1458,1896],leg:lLegend,lk:[1906,1929],lx:[1462.5,1482.4,1494]});
bars({f:[1614,1707,1818.7,2127],xc:[1670,1762.8],yr:[2108.3,1725.3],bw:65.5,ab:2142,low:mLow,pct:mPct,colors:[BL,"#ff0000"],t1:[1715.7,1661],t2:[1720,1689],yl:[1578,1916],xl:[1716,2158],lt:"AFP",lp:[1840.8,1896],leg:mLegend,lk:[1906,1930.6],lx:[1842,1863,1873]});
</script></body></html>
